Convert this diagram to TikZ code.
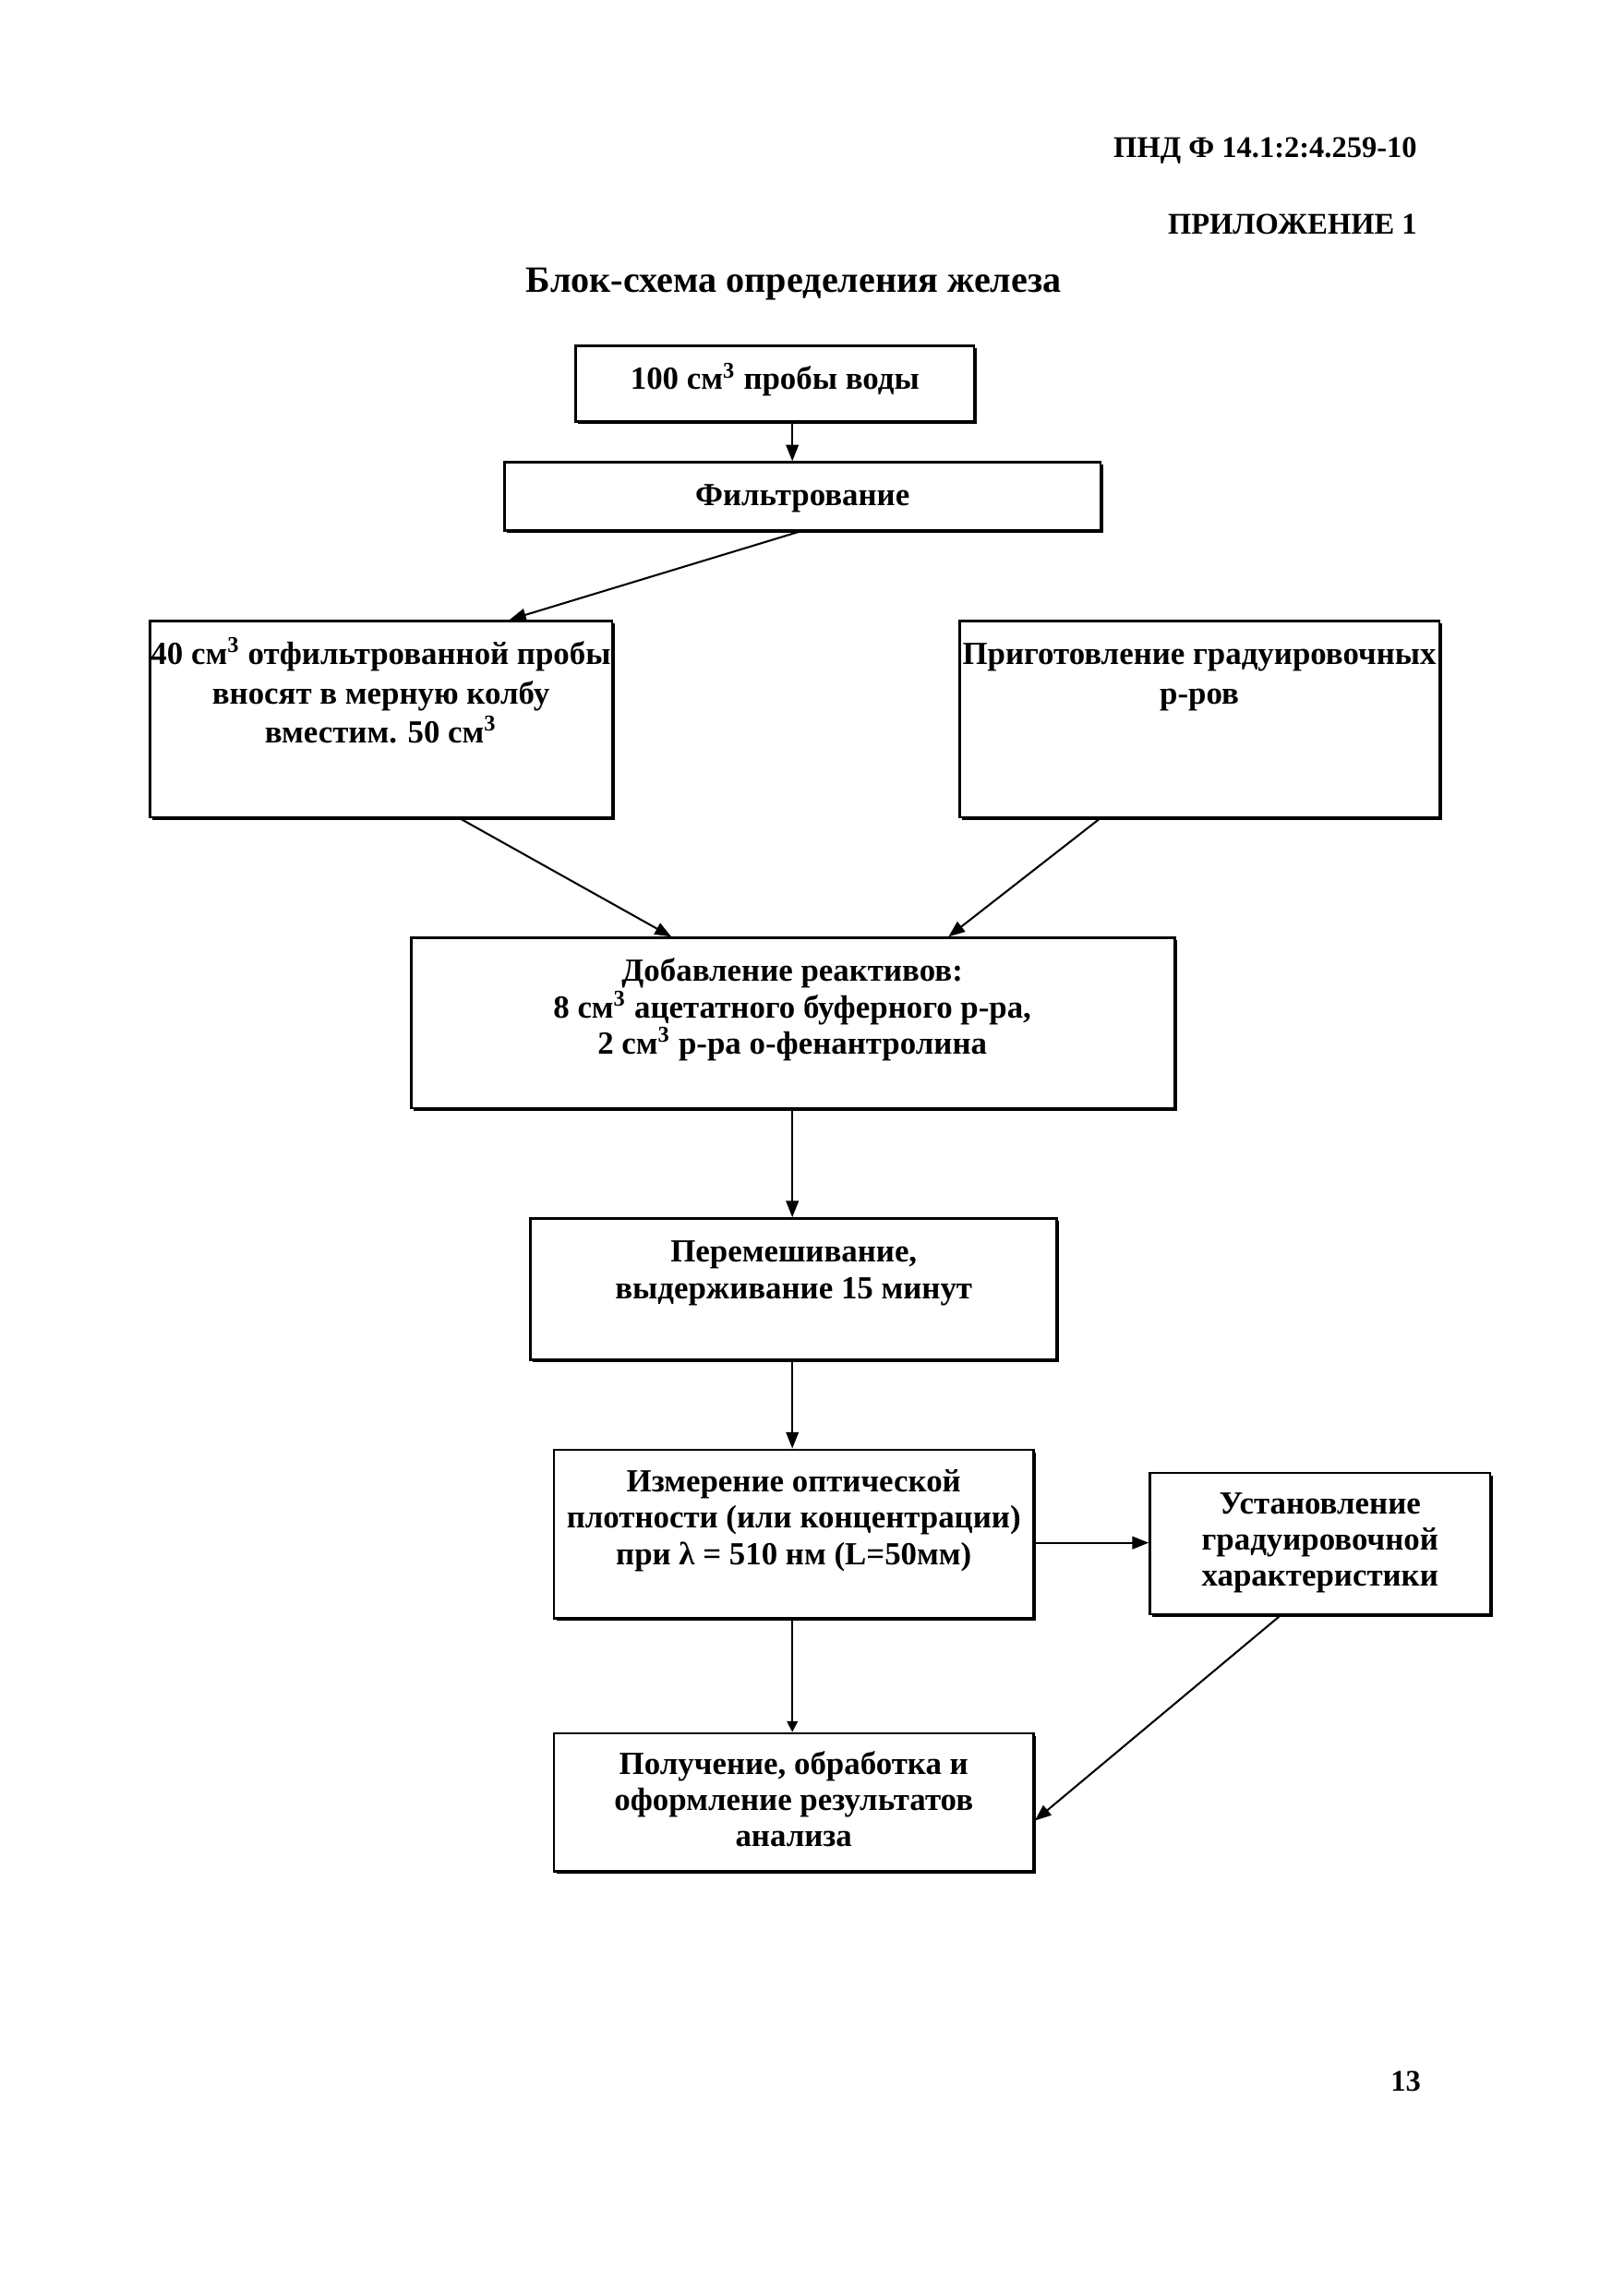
\documentclass[tikz,border=0pt]{standalone}
\usepackage{fontspec}
\setmainfont{Liberation Serif}
\usetikzlibrary{arrows.meta,shadows,fit,calc}
\begin{document}
\begin{tikzpicture}[x=0.5327pt,y=-0.5327pt,
  box/.style={draw,line width=0.9pt,inner sep=0pt,fill=white,
    drop shadow={shadow xshift=0.9pt,shadow yshift=-0.9pt,fill=black,opacity=1}},
  txt/.style={font=\fontsize{11.8}{13.3}\selectfont\bfseries,align=center,inner sep=0pt,anchor=base},
  widetxt/.style={txt,font=\fontsize{11.8}{14.4}\selectfont\bfseries},
  hdr/.style={font=\fontsize{11}{13}\selectfont\bfseries,inner sep=0pt},
  arr/.style={line width=0.7pt,-{Triangle[length=6pt,width=4.6pt]}},
  thinarr/.style={line width=0.6pt,-{Triangle[length=4pt,width=4pt]}},
]
\useasboundingbox[fill=white] (0,0) rectangle (1117,1568);

% header
\node[hdr,anchor=base east] (h1) at (975,108) {ПНД Ф 14.1:2:4.259-10};
\node[hdr,anchor=base east] (h2) at (975,161) {ПРИЛОЖЕНИЕ 1};
\node[hdr,font=\fontsize{13.6}{16}\selectfont\bfseries,anchor=base] (title) at (546,201) {Блок-схема определения железа};
\node[hdr,anchor=base] (pg) at (967,1438) {13};

% boxes
\node[box,fit={(396,238)(670,290)}] (b1) {};
\node[box,fit={(347,318)(757,365)}] (b2) {};
\node[box,fit={(103,427)(421,562)}] (b3) {};
\node[box,fit={(660,427)(990,562)}] (b4) {};
\node[box,fit={(283,645)(808,762)}] (b5) {};
\node[box,fit={(365,838)(727,935)}] (b6) {};
\node[box,fit={(381,997)(711,1113)}] (b7) {};
\node[box,fit={(791,1013)(1025,1110)}] (b8) {};
\node[box,fit={(381,1192)(711,1287)}] (b9) {};

% texts (anchor base = baseline of the last line)
\node[txt] (t1) at (533,268) {100 см\textsuperscript{3} пробы воды};
\node[txt] (t2) at (552,348) {Фильтрование};
\node[widetxt] (t3) at (262,511) {40 см\textsuperscript{3} отфильтрованной пробы\\вносят в мерную колбу\\вместим. 50 см\textsuperscript{3}};
\node[widetxt] (t4) at (825,484) {Приготовление градуировочных\\р-ров};
\node[txt] (t5) at (545,725) {Добавление реактивов:\\8 см\textsuperscript{3} ацетатного буферного р-ра,\\2 см\textsuperscript{3} р-ра о-фенантролина};
\node[txt] (t6) at (546,893) {Перемешивание,\\выдерживание 15 минут};
\node[txt] (t7) at (546,1076) {Измерение оптической\\плотности (или концентрации)\\при λ = 510 нм (L=50мм)};
\node[txt] (t8) at (908,1091) {Установление\\градуировочной\\характеристики};
\node[txt] (t9) at (546,1270) {Получение, обработка и\\оформление результатов\\анализа};

% helper coordinates
\coordinate (x545) at (545,0);
\coordinate (y1061) at (0,1061);

% connectors
\draw[arr] (b1.south -| x545) -- (b2.north -| x545);
\draw[arr] ($(b2.south west)!0.493!(b2.south east)$) -- ($(b3.north west)!0.777!(b3.north east)$);
\draw[arr] ($(b3.south west)!0.670!(b3.south east)$) -- ($(b5.north west)!0.341!(b5.north east)$);
\draw[arr] ($(b4.south west)!0.294!(b4.south east)$) -- ($(b5.north west)!0.703!(b5.north east)$);
\draw[arr] (b5.south -| x545) -- (b6.north -| x545);
\draw[arr] (b6.south -| x545) -- (b7.north -| x545);
\draw[arr] (b7.east |- y1061) -- (b8.west |- y1061);
\draw[thinarr] (b7.south -| x545) -- (b9.north -| x545);
\draw[arr] ($(b8.south west)!0.385!(b8.south east)$) -- ($(b9.north east)!0.63!(b9.south east)$);
\end{tikzpicture}
\end{document}
